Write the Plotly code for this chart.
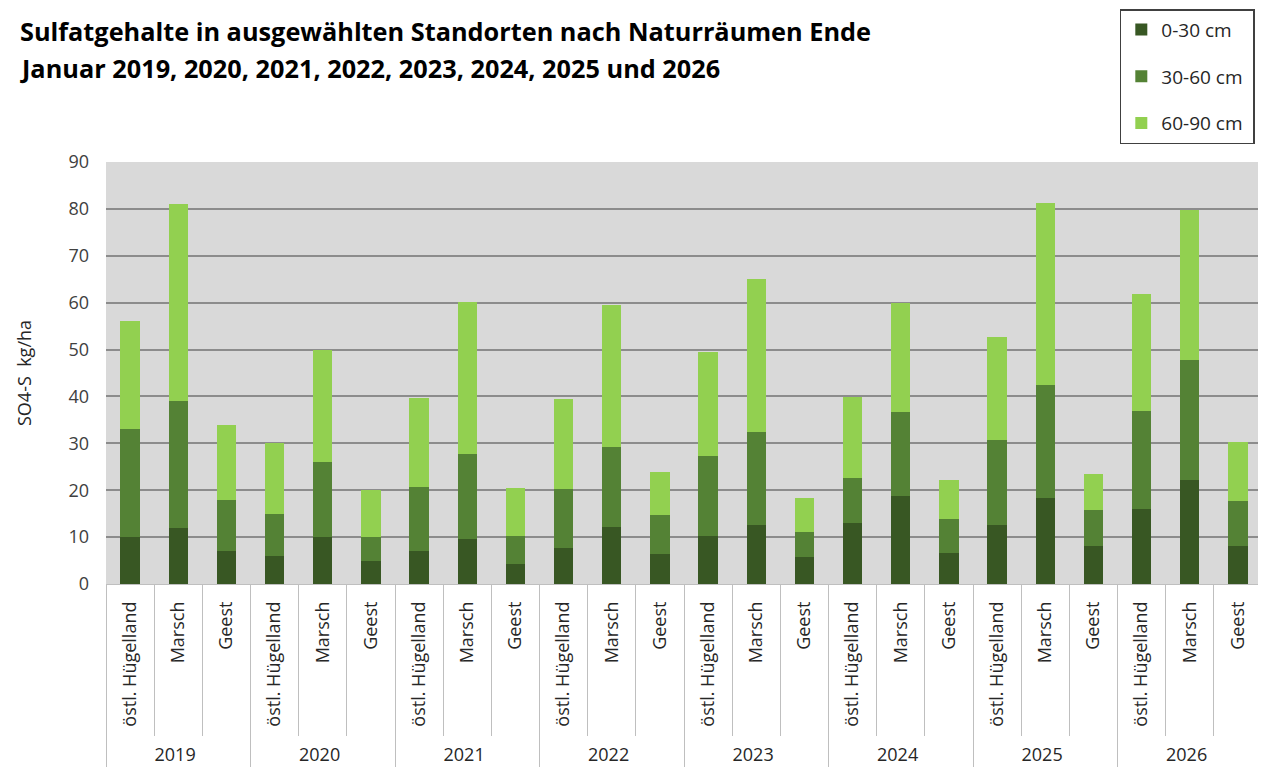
import plotly.graph_objects as go

years = ["2019", "2020", "2021", "2022", "2023", "2024", "2025", "2026"]
regions = ["östl. Hügelland", "Marsch", "Geest"]

# segment values (kg/ha) per bar, order: year x region
d0_30 = [10, 12, 7,  6, 10, 5,  7.1, 9.7, 4.2,  7.6, 12.1, 6.3,
         10.2, 12.6, 5.7,  13.1, 18.8, 6.6,  12.6, 18.3, 8.0,  16.1, 22.2, 8.2]
d30_60 = [23, 27, 11,  9, 16, 5,  13.6, 18.1, 6.0,  12.6, 17.1, 8.4,
          17.1, 19.9, 5.4,  9.6, 17.8, 7.2,  18.2, 24.1, 7.7,  20.8, 25.5, 9.4]
d60_90 = [23, 42, 16,  15, 24, 10,  19.0, 32.3, 10.3,  19.2, 30.2, 9.1,
          22.2, 32.6, 7.2,  17.2, 23.4, 8.3,  21.8, 38.85, 7.7,  25.0, 32.1, 12.7]

series = [("0-30 cm", d0_30, "#385723"),
          ("30-60 cm", d30_60, "#548235"),
          ("60-90 cm", d60_90, "#92D050")]

title_lines = ["Sulfatgehalte in ausgewählten Standorten nach Naturräumen Ende",
               "Januar 2019, 2020, 2021, 2022, 2023, 2024, 2025 und 2026"]

NB = "\u00a0\u00a0"  # small gap between axis and rotated labels
x_outer = [y for y in years for _ in regions]
x_inner = [r + NB for _ in years for r in regions]

fig = go.Figure()
for i, (name, vals, col) in enumerate(series):
    fig.add_trace(go.Bar(x=[x_outer, x_inner], y=vals, name=name + "\u00a0",
                         marker=dict(color=col, line=dict(width=0)),
                         legendgroup=f"g{i}"))

font = "Open Sans"
fig.update_layout(
    barmode="stack",
    width=1258, height=761,
    margin=dict(l=98, r=4, t=154, b=185, autoexpand=False),
    paper_bgcolor="white",
    plot_bgcolor="#D9D9D9",
    bargap=0.6,
    font=dict(family=font, size=17, color="#404040"),
    showlegend=True,
    legend=dict(x=0.877, y=1.362, xanchor="left", yanchor="top",
                bordercolor="#404040", borderwidth=1.5,
                font=dict(size=19, color="#262626"),
                tracegroupgap=19, itemwidth=30),
    yaxis=dict(range=[0, 90], dtick=10, showgrid=True,
               gridcolor="#8C8C8C", gridwidth=1.5, zeroline=False,
               tickfont=dict(size=18, color="#404040"), ticks="",
               ticklabelstandoff=16,
               title=dict(text="SO4-S  kg/ha", font=dict(size=18, color="#262626"),
                          standoff=32)),
    xaxis=dict(type="multicategory", tickangle=-90, showgrid=False,
               tickfont=dict(size=18, color="#262626"),
               showline=True, linecolor="#BFBFBF", linewidth=1,
               ticks="outside", ticklen=151, tickcolor="#BFBFBF",
               showdividers=True, dividercolor="#BFBFBF", dividerwidth=1),
)

for txt, yy in zip(title_lines, [1.3104, 1.2227]):
    fig.add_annotation(text=f"<b>{txt}</b>",
                       xref="paper", yref="paper", x=-0.0761, y=yy,
                       xanchor="left", yanchor="middle", showarrow=False,
                       font=dict(family=font, size=25.3, color="black"))

fig.write_html("out.html")
